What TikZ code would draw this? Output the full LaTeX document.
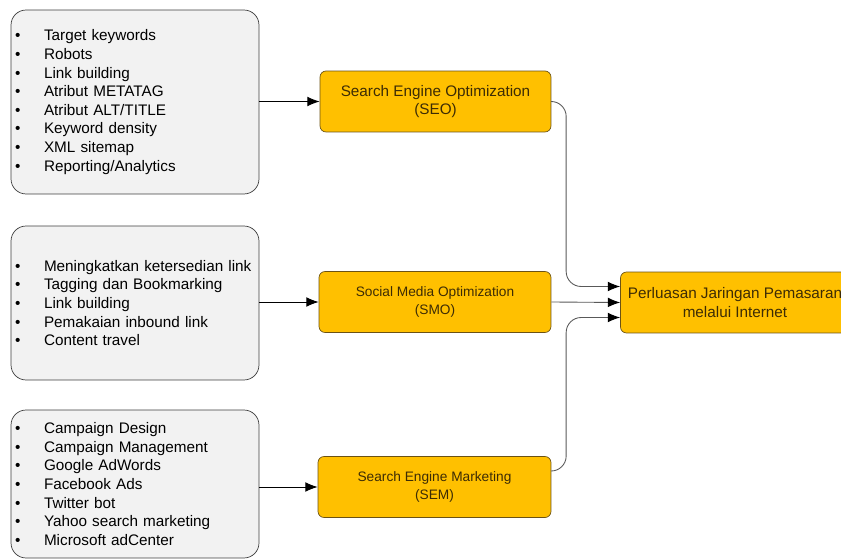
\documentclass[tikz,border=0pt]{standalone}
\usepackage{fontspec}
\setmainfont{Liberation Sans}
\usetikzlibrary{arrows.meta,calc}
\definecolor{listfill}{HTML}{F2F2F2}
\definecolor{listline}{HTML}{3F3F3F}
\definecolor{boxfill}{HTML}{FFC000}
\definecolor{boxline}{HTML}{6B5214}
\definecolor{boxtext}{HTML}{3D2C05}
\newcommand{\itm}[1]{\makebox[0.58cm][l]{\textbullet}#1\\}
\begin{document}
\begin{tikzpicture}[x=0.02cm,y=-0.02cm,
    listbox/.style={draw=listline,fill=listfill,rounded corners=0.3cm,
        minimum width=4.96cm,text width=4.8cm,inner xsep=0.08cm,align=left,
        font=\fontsize{8.7}{10.6}\selectfont},
    orbox/.style={draw=boxline,fill=boxfill,rounded corners=0.12cm,
        minimum height=1.22cm,align=center,text=boxtext},
    link/.style={draw=black!65,line width=0.5pt,-{Latex[length=7pt,width=5.5pt,color=black]}},
    feed/.style={draw=black,line width=0.5pt,-{Latex[length=7pt,width=5.5pt]}}]
    \useasboundingbox (0,0) rectangle (841,560);
    \node[listbox,minimum height=3.68cm] (seolist) at (135,102) {\itm{Target keywords}\itm{Robots}\itm{Link building}\itm{Atribut METATAG}\itm{Atribut ALT/TITLE}\itm{Keyword density}\itm{XML sitemap}\itm{Reporting/Analytics}};
    \node[listbox,minimum height=3.08cm] (smolist) at (135,303) {\itm{Meningkatkan ketersedian link}\itm{Tagging dan Bookmarking}\itm{Link building}\itm{Pemakaian inbound link}\itm{Content travel}};
    \node[listbox,minimum height=2.96cm] (semlist) at (135,484) {\itm{Campaign Design}\itm{Campaign Management}\itm{Google AdWords}\itm{Facebook Ads}\itm{Twitter bot}\itm{Yahoo search marketing}\itm{Microsoft adCenter}};
    \node[orbox,minimum width=4.62cm,font=\fontsize{8.7}{10.6}\selectfont] (seo) at (435.5,101.5) {Search Engine Optimization\\(SEO)};
    \node[orbox,minimum width=4.64cm,font=\fontsize{7.8}{10.6}\selectfont] (smo) at (435,302) {Social Media Optimization\\(SMO)};
    \node[orbox,minimum width=4.66cm,font=\fontsize{7.8}{10.6}\selectfont] (sem) at (434.5,487) {Search Engine Marketing\\(SEM)};
    \node[orbox,minimum width=4.58cm,font=\fontsize{8.7}{10.6}\selectfont] (target) at (735,302.5) {Perluasan Jaringan Pemasaran\\melalui Internet};
    \draw[feed] (seolist.east |- seo.west) -- (seo.west);
    \draw[feed] (smolist.east |- smo.west) -- (smo.west);
    \draw[feed] (semlist.east |- sem.west) -- (sem.west);
    \draw[link,rounded corners=0.3cm] (seo.east) -| ($(target.west)+(-54,-16)$) -- ($(target.west)+(0,-16)$);
    \draw[link] (smo.east) -- (target.west);
    \draw[link,rounded corners=0.3cm] (sem.east |- 0,471) -| ($(target.west)+(-54,15)$) -- ($(target.west)+(0,15)$);
\end{tikzpicture}
\end{document}
